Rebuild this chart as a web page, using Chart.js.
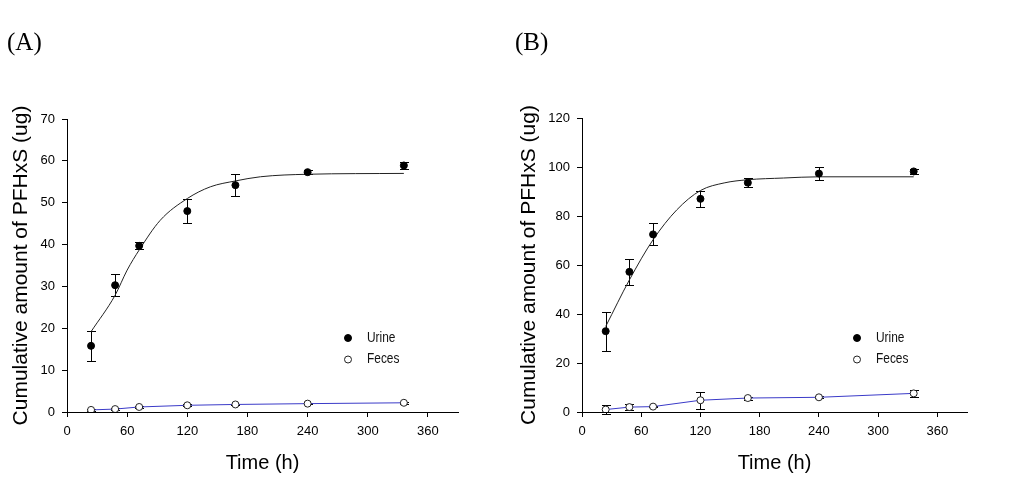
<!DOCTYPE html>
<html>
<head>
<meta charset="utf-8">
<script src="https://cdn.jsdelivr.net/npm/chart.js@4.4.0/dist/chart.umd.min.js"></script>
<style>
  body { margin: 0; background: #fff; width: 1010px; height: 480px; position: relative; overflow: hidden; }
  .panel { position: absolute; top: 0; width: 505px; height: 480px; }
  .tag { position: absolute; top: 27px; line-height: 30px; font-family: 'Liberation Serif', 'DejaVu Serif', serif; font-size: 25px; color: #000; }
</style>
</head>
<body>
<div class="panel" style="left:0"><canvas id="chartA" width="505" height="480"></canvas></div>
<div class="panel" style="left:505px"><canvas id="chartB" width="505" height="480"></canvas></div>
<div class="tag" style="left:7px">(A)</div>
<div class="tag" style="left:515px">(B)</div>
<script>
// ---------------------------------------------------
// Data
// ---------------------------------------------------
var hours = [24, 48, 72, 120, 168, 240, 336];
var xTicks = [0, 60, 120, 180, 240, 300, 360];

// Panel A
var urineA    = [15.8, 30.3, 39.7, 48.0, 54.2, 57.3, 58.9];
var urineAErr = [3.6, 2.6, 0.85, 2.9, 2.55, 0.55, 0.8];
var fecesA    = [0.5, 0.7, 1.2, 1.6, 1.8, 2.0, 2.2];
var fecesAErr = [0.3, 0.2, 0.3, 0.2, 0.2, 0.2, 0.3];
var fitHoursA = [24, 48, 60, 72, 93, 120, 143, 168, 193, 240, 336];
var fitA      = [19.2, 27.9, 33.9, 38.7, 45.8, 51.0, 53.8, 55.2, 56.2, 56.8, 57.0];

// Panel B
var urineB    = [33.0, 57.2, 72.5, 87.0, 93.6, 97.3, 98.2];
var urineBErr = [7.9, 5.2, 4.5, 3.2, 1.9, 2.6, 0.9];
var fecesB    = [1.0, 2.0, 2.2, 4.8, 5.7, 6.0, 7.6];
var fecesBErr = [1.8, 1.1, 0.3, 3.5, 0.6, 0.4, 1.4];
var fitHoursB = [24, 48, 72, 96, 120, 144, 168, 204, 240, 336];
var fitB      = [34.9, 53.9, 70.3, 82.5, 90.4, 93.5, 94.8, 95.5, 96.0, 96.0];

var FONT = "'Liberation Sans', Arial, sans-serif";

/**
 * Zip x and y arrays into scatter points
 */
function toPoints(xs, ys) {
  return xs.map(function(x, i) { return { x: x, y: ys[i] }; });
}

/**
 * Vertical error bars with caps, drawn under the markers
 */
var errorBarPlugin = {
  id: 'errorBars',
  beforeDatasetsDraw: function(chart) {
    var ctx = chart.ctx;
    var xs = chart.scales.x, ys = chart.scales.y;
    ctx.save();
    ctx.strokeStyle = '#000';
    ctx.lineWidth = 1;
    chart.data.datasets.forEach(function(ds) {
      if (!ds.err) return;
      ds.data.forEach(function(p, i) {
        var e = ds.err[i];
        if (!e) return;
        var x = Math.round(xs.getPixelForValue(p.x)) + 0.5;
        var yt = Math.round(ys.getPixelForValue(p.y + e)) + 0.5;
        var yb = Math.round(ys.getPixelForValue(p.y - e)) + 0.5;
        ctx.beginPath();
        ctx.moveTo(x, yt); ctx.lineTo(x, yb);
        ctx.moveTo(x - 4.5, yt); ctx.lineTo(x + 4.5, yt);
        ctx.moveTo(x - 4.5, yb); ctx.lineTo(x + 4.5, yb);
        ctx.stroke();
      });
    });
    ctx.restore();
  }
};

/**
 * Small legend inside the plot (marker + condensed label)
 */
var innerLegendPlugin = {
  id: 'innerLegend',
  afterDatasetsDraw: function(chart) {
    var ctx = chart.ctx, area = chart.chartArea;
    var items = chart.data.datasets.filter(function(ds) { return ds.inLegend; });
    ctx.save();
    items.forEach(function(ds, i) {
      var mx = area.right - 110;
      var my = area.bottom - 74 + i * 21.5;
      ctx.beginPath();
      ctx.arc(mx, my, 3.5, 0, Math.PI * 2);
      ctx.fillStyle = ds.pointBackgroundColor;
      ctx.fill();
      ctx.lineWidth = 1;
      ctx.strokeStyle = ds.pointBorderColor;
      ctx.stroke();
      ctx.save();
      ctx.translate(area.right - 91, my);
      ctx.scale(0.85, 1);
      ctx.font = '14px ' + FONT;
      ctx.fillStyle = '#111';
      ctx.textBaseline = 'middle';
      ctx.fillText(ds.label, 0, 0);
      ctx.restore();
    });
    ctx.restore();
  }
};

/**
 * Build one panel
 */
function buildChart(canvasId, cfg) {
  return new Chart(document.getElementById(canvasId), {
    type: 'scatter',
    data: {
      datasets: [
        {
          label: 'Urine',
          inLegend: true,
          data: toPoints(hours, cfg.urine),
          err: cfg.urineErr,
          showLine: false,
          pointRadius: 3.5,
          pointBackgroundColor: '#000',
          pointBorderColor: '#000',
          pointBorderWidth: 1
        },
        {
          label: 'Feces',
          inLegend: true,
          data: toPoints(hours, cfg.feces),
          err: cfg.fecesErr,
          showLine: true,
          borderColor: '#3a3ac8',
          borderWidth: 1,
          pointRadius: 3.5,
          pointBackgroundColor: '#fff',
          pointBorderColor: '#222',
          pointBorderWidth: 1
        },
        {
          label: 'Fit',
          data: toPoints(cfg.fitHours, cfg.fit),
          showLine: true,
          borderColor: '#222',
          borderWidth: 1,
          pointRadius: 0,
          cubicInterpolationMode: 'monotone'
        }
      ]
    },
    options: {
      responsive: false,
      animation: false,
      events: [],
      layout: { padding: { top: cfg.top, right: cfg.right, left: 0, bottom: 0 } },
      plugins: {
        legend: { display: false },
        tooltip: { enabled: false }
      },
      scales: {
        x: {
          type: 'linear',
          min: 0,
          max: 390,
          afterFit: function(s) { s.height = 68; },
          afterBuildTicks: function(s) {
            s.ticks = xTicks.map(function(v) { return { value: v }; });
          },
          ticks: { stepSize: 60, padding: 7, color: '#000', font: { size: 13, family: FONT } },
          grid: { drawOnChartArea: false, drawTicks: true, tickLength: 5, color: '#000' },
          border: { color: '#000', width: 1 },
          title: {
            display: true,
            text: 'Time (h)',
            color: '#000',
            font: { size: 20, family: FONT },
            padding: { top: 0, bottom: 5 }
          }
        },
        y: {
          min: 0,
          max: cfg.yMax,
          afterFit: function(s) { s.width = cfg.axisWidth; },
          ticks: { stepSize: cfg.yStep, padding: 7, color: '#000', font: { size: 13, family: FONT } },
          grid: { drawOnChartArea: false, drawTicks: true, tickLength: 5, color: '#000' },
          border: { color: '#000', width: 1 },
          title: {
            display: true,
            text: 'Cumulative amount of PFHxS (ug)',
            color: '#000',
            font: { size: 21, family: FONT },
            padding: { top: cfg.titlePad, bottom: 0 }
          }
        }
      }
    },
    plugins: [errorBarPlugin, innerLegendPlugin]
  });
}

buildChart('chartA', {
  urine: urineA, urineErr: urineAErr,
  feces: fecesA, fecesErr: fecesAErr,
  fitHours: fitHoursA, fit: fitA,
  yMax: 70, yStep: 10,
  top: 119, right: 47, axisWidth: 67, titlePad: 9
});

buildChart('chartB', {
  urine: urineB, urineErr: urineBErr,
  feces: fecesB, fecesErr: fecesBErr,
  fitHours: fitHoursB, fit: fitB,
  yMax: 120, yStep: 20,
  top: 118, right: 43, axisWidth: 77, titlePad: 12
});
</script>
</body>
</html>
